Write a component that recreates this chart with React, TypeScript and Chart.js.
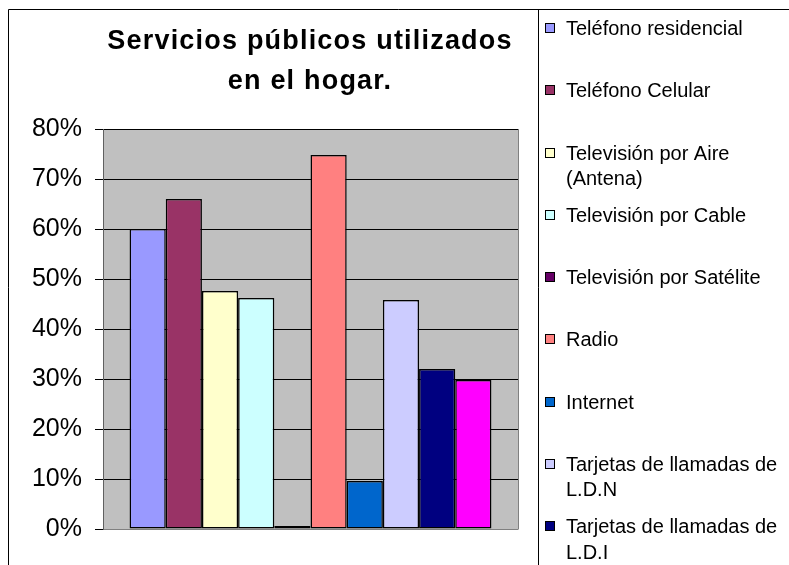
import { useEffect, useRef } from 'react';
import { Chart, registerables } from 'chart.js';

Chart.register(...registerables);

const FONT = '"Liberation Sans", Arial, sans-serif';

const categories = [''];
const seriesLabels = [
  'Teléfono residencial',
  'Teléfono Celular',
  'Televisión por Aire (Antena)',
  'Televisión por Cable',
  'Televisión por Satélite',
  'Radio',
  'Internet',
  'Tarjetas de llamadas de L.D.N',
  'Tarjetas de llamadas de L.D.I',
  'Otros',
];
const seriesValues = [60, 66, 47.6, 46.2, 0.6, 74.8, 9.6, 45.8, 32, 29.8];
const seriesColors = [
  '#9999FF', '#993366', '#FFFFCC', '#CCFFFF', '#660066',
  '#FF8080', '#0066CC', '#CCCCFF', '#000080', '#FF00FF',
];
const yMax = 80;
const yStep = 10;
const titleLines = ['Servicios públicos utilizados', 'en el hogar.'];

function wrapText(ctx: CanvasRenderingContext2D, text: string, maxWidth: number): string[] {
  const words = text.split(' ');
  const lines: string[] = [];
  let cur = '';
  for (const w of words) {
    const test = cur ? cur + ' ' + w : w;
    if (ctx.measureText(test).width > maxWidth && cur) {
      lines.push(cur);
      cur = w;
    } else {
      cur = test;
    }
  }
  if (cur) lines.push(cur);
  return lines;
}

const decor = {
  id: 'decor',
  beforeDraw(chart: any) {
    const { ctx, chartArea: a } = chart;
    ctx.save();
    ctx.fillStyle = '#ffffff';
    ctx.fillRect(0, 0, chart.width, chart.height);
    ctx.fillStyle = '#C0C0C0';
    ctx.fillRect(a.left, a.top, a.right - a.left, a.bottom - a.top);
    ctx.restore();
  },
  beforeDatasetsDraw(chart: any) {
    const { ctx, chartArea: a } = chart;
    ctx.save();
    ctx.strokeStyle = '#808080';
    ctx.lineWidth = 1;
    ctx.beginPath();
    ctx.moveTo(Math.round(a.right) + 0.5, a.top);
    ctx.lineTo(Math.round(a.right) + 0.5, a.bottom + 0.5);
    ctx.stroke();
    ctx.restore();
  },
  afterDraw(chart: any) {
    const { ctx } = chart;
    const W = chart.width;
    const H = chart.height;
    ctx.save();
    // outer chart border
    ctx.strokeStyle = '#000000';
    ctx.lineWidth = 1;
    ctx.beginPath();
    ctx.moveTo(8.5, H);
    ctx.lineTo(8.5, 9.5);
    ctx.lineTo(W, 9.5);
    ctx.stroke();
    // legend border
    ctx.beginPath();
    ctx.moveTo(538.5, 9.5);
    ctx.lineTo(538.5, H);
    ctx.stroke();

    // title
    ctx.fillStyle = '#000000';
    ctx.font = 'bold 27px ' + FONT;
    (ctx as any).letterSpacing = '1.2px';
    ctx.textAlign = 'center';
    ctx.textBaseline = 'alphabetic';
    ctx.fillText(titleLines[0], 310, 49);
    ctx.fillText(titleLines[1], 310, 89);
    (ctx as any).letterSpacing = '0px';

    // legend
    ctx.font = '20px ' + FONT;
    ctx.textAlign = 'left';
    const ds = chart.data.datasets;
    for (let i = 0; i < ds.length; i++) {
      const base = 35 + i * 62.25;
      ctx.fillStyle = ds[i].backgroundColor;
      ctx.fillRect(545, Math.round(base) - 12, 10, 10);
      ctx.strokeStyle = '#000000';
      ctx.strokeRect(545.5, Math.round(base) - 11.5, 9, 9);
      ctx.fillStyle = '#000000';
      const lines = wrapText(ctx, ds[i].label, 222);
      lines.forEach((ln, k) => ctx.fillText(ln, 566, base + k * 25.5));
    }
    ctx.restore();
  },
};

export default function App() {
  const ref = useRef<HTMLCanvasElement | null>(null);
  useEffect(() => {
    document.body.style.margin = '0';
    document.body.style.overflow = 'hidden';
    const canvas = ref.current;
    if (!canvas) return;
    const chart = new Chart(canvas, {
      type: 'bar',
      data: {
        labels: categories,
        datasets: seriesLabels.map((label, i) => ({
          label,
          data: [seriesValues[i]],
          backgroundColor: seriesColors[i],
          borderColor: '#000000',
          borderWidth: 1.5,
          borderSkipped: false,
          categoryPercentage: 0.872,
          barPercentage: 1,
        })),
      },
      options: {
        responsive: false,
        animation: false,
        devicePixelRatio: 1,
        layout: { padding: { left: 0, top: 129, right: 271, bottom: 36 } },
        plugins: {
          legend: { display: false },
          title: { display: false },
          tooltip: { enabled: false },
        },
        scales: {
          x: { display: false },
          y: {
            min: 0,
            max: yMax,
            ticks: {
              stepSize: yStep,
              callback: (v: any) => v + '%',
              color: '#000000',
              font: { family: FONT, size: 25 },
              padding: 13,
            },
            grid: {
              color: (c: any) => (c.tick && c.tick.value === 0 ? '#808080' : '#000000'),
              tickColor: '#000000',
              tickLength: 8,
              lineWidth: 1,
            },
            border: { color: '#606060' },
            afterFit: (s: any) => {
              s.width = 103;
            },
          },
        },
      } as any,
      plugins: [decor],
    });
    return () => chart.destroy();
  }, []);
  return (
    <canvas
      ref={ref}
      width={789}
      height={565}
      style={{ display: 'block', width: 789, height: 565 }}
    />
  );
}
